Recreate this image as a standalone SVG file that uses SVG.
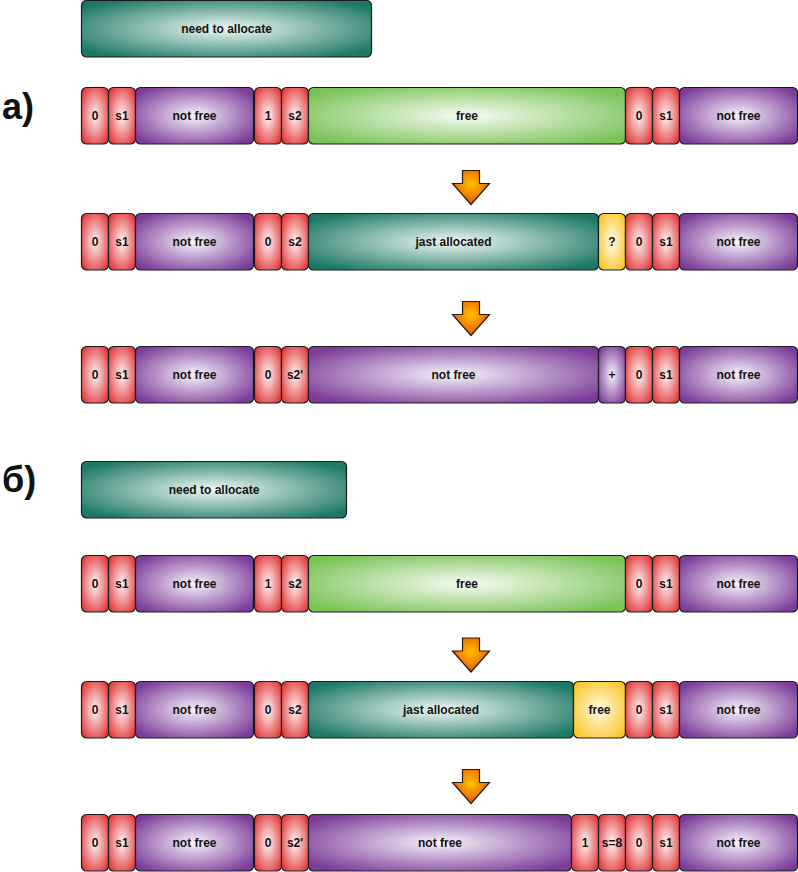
<svg xmlns="http://www.w3.org/2000/svg" width="798" height="872" viewBox="0 0 798 872">
<defs>
<radialGradient id="gr" cx="0.5" cy="0.5" r="0.62"><stop offset="0" stop-color="#fff4f4"/><stop offset="1" stop-color="#e03a3a"/></radialGradient>
<radialGradient id="gp" cx="0.5" cy="0.5" r="0.62"><stop offset="0" stop-color="#f8f3fb"/><stop offset="1" stop-color="#7a3c98"/></radialGradient>
<radialGradient id="gt" cx="0.5" cy="0.5" r="0.62"><stop offset="0" stop-color="#f0f9f6"/><stop offset="1" stop-color="#1d7865"/></radialGradient>
<radialGradient id="gg" cx="0.5" cy="0.5" r="0.62"><stop offset="0" stop-color="#f6fcf2"/><stop offset="1" stop-color="#7bc258"/></radialGradient>
<radialGradient id="gy" cx="0.5" cy="0.5" r="0.62"><stop offset="0" stop-color="#fffbe6"/><stop offset="1" stop-color="#fbc52a"/></radialGradient>
<radialGradient id="go" cx="0.5" cy="0.4" r="0.6"><stop offset="0" stop-color="#ffc200"/><stop offset="1" stop-color="#e65400"/></radialGradient>
<path id="arr" d="M462.5,0 H479.5 V13 H489.5 L471,34 L452.5,13 H462.5 Z"/>
</defs>
<style>
rect{stroke:#1c1c1c;stroke-width:1.2}
.r{fill:url(#gr)}
.p{fill:url(#gp)}
.t{fill:url(#gt)}
.g{fill:url(#gg)}
.y{fill:url(#gy)}
text{font-family:"Liberation Sans",Arial,sans-serif;font-weight:bold;font-size:12px;fill:#111;text-anchor:middle}
.big{font-size:36px;text-anchor:start}
.ar{fill:url(#go);stroke:#2a1a10;stroke-width:1.2}
</style>

<text class="big" x="2" y="119">a)</text>
<text class="big" x="2" y="492">б)</text>

<g id="need-a"><rect class="t" x="81.5" y="0.5" width="290" height="56.5" rx="5"/><text x="226.5" y="33">need to allocate</text></g>

<!-- row a1 -->
<g id="a1-c1"><rect class="r" x="81.5" y="87.5" width="27" height="56.5" rx="5"/><text x="95" y="120">0</text></g>
<g id="a1-c2"><rect class="r" x="108.5" y="87.5" width="27" height="56.5" rx="5"/><text x="122" y="120">s1</text></g>
<g id="a1-c3"><rect class="p" x="135.5" y="87.5" width="118" height="56.5" rx="5"/><text x="194.5" y="120">not free</text></g>
<g id="a1-c4"><rect class="r" x="254.5" y="87.5" width="27" height="56.5" rx="5"/><text x="268" y="120">1</text></g>
<g id="a1-c5"><rect class="r" x="281.5" y="87.5" width="27" height="56.5" rx="5"/><text x="295" y="120">s2</text></g>
<g id="a1-c6"><rect class="g" x="308.5" y="87.5" width="317" height="56.5" rx="5"/><text x="467" y="120">free</text></g>
<g id="a1-c7"><rect class="r" x="625.5" y="87.5" width="27" height="56.5" rx="5"/><text x="639" y="120">0</text></g>
<g id="a1-c8"><rect class="r" x="652.5" y="87.5" width="27" height="56.5" rx="5"/><text x="666" y="120">s1</text></g>
<g id="a1-c9"><rect class="p" x="679.5" y="87.5" width="118" height="56.5" rx="5"/><text x="738.5" y="120">not free</text></g>

<!-- row a2 -->
<g id="a2-c1"><rect class="r" x="81.5" y="213.5" width="27" height="56.5" rx="5"/><text x="95" y="246">0</text></g>
<g id="a2-c2"><rect class="r" x="108.5" y="213.5" width="27" height="56.5" rx="5"/><text x="122" y="246">s1</text></g>
<g id="a2-c3"><rect class="p" x="135.5" y="213.5" width="118" height="56.5" rx="5"/><text x="194.5" y="246">not free</text></g>
<g id="a2-c4"><rect class="r" x="254.5" y="213.5" width="27" height="56.5" rx="5"/><text x="268" y="246">0</text></g>
<g id="a2-c5"><rect class="r" x="281.5" y="213.5" width="27" height="56.5" rx="5"/><text x="295" y="246">s2</text></g>
<g id="a2-c6"><rect class="t" x="308.5" y="213.5" width="290" height="56.5" rx="5"/><text x="453.5" y="246">jast allocated</text></g>
<g id="a2-c7"><rect class="y" x="598.5" y="213.5" width="27" height="56.5" rx="5"/><text x="612" y="246">?</text></g>
<g id="a2-c8"><rect class="r" x="625.5" y="213.5" width="27" height="56.5" rx="5"/><text x="639" y="246">0</text></g>
<g id="a2-c9"><rect class="r" x="652.5" y="213.5" width="27" height="56.5" rx="5"/><text x="666" y="246">s1</text></g>
<g id="a2-c10"><rect class="p" x="679.5" y="213.5" width="118" height="56.5" rx="5"/><text x="738.5" y="246">not free</text></g>

<!-- row a3 -->
<g id="a3-c1"><rect class="r" x="81.5" y="346.5" width="27" height="56.5" rx="5"/><text x="95" y="379">0</text></g>
<g id="a3-c2"><rect class="r" x="108.5" y="346.5" width="27" height="56.5" rx="5"/><text x="122" y="379">s1</text></g>
<g id="a3-c3"><rect class="p" x="135.5" y="346.5" width="118" height="56.5" rx="5"/><text x="194.5" y="379">not free</text></g>
<g id="a3-c4"><rect class="r" x="254.5" y="346.5" width="27" height="56.5" rx="5"/><text x="268" y="379">0</text></g>
<g id="a3-c5"><rect class="r" x="281.5" y="346.5" width="27" height="56.5" rx="5"/><text x="295" y="379">s2'</text></g>
<g id="a3-c6"><rect class="p" x="308.5" y="346.5" width="290" height="56.5" rx="5"/><text x="453.5" y="379">not free</text></g>
<g id="a3-c7"><rect class="p" x="598.5" y="346.5" width="27" height="56.5" rx="5"/><text x="612" y="379">+</text></g>
<g id="a3-c8"><rect class="r" x="625.5" y="346.5" width="27" height="56.5" rx="5"/><text x="639" y="379">0</text></g>
<g id="a3-c9"><rect class="r" x="652.5" y="346.5" width="27" height="56.5" rx="5"/><text x="666" y="379">s1</text></g>
<g id="a3-c10"><rect class="p" x="679.5" y="346.5" width="118" height="56.5" rx="5"/><text x="738.5" y="379">not free</text></g>

<g id="need-b"><rect class="t" x="81.5" y="461.5" width="265" height="56.5" rx="5"/><text x="214" y="494">need to allocate</text></g>

<!-- row b1 -->
<g id="b1-c1"><rect class="r" x="81.5" y="555.5" width="27" height="56.5" rx="5"/><text x="95" y="588">0</text></g>
<g id="b1-c2"><rect class="r" x="108.5" y="555.5" width="27" height="56.5" rx="5"/><text x="122" y="588">s1</text></g>
<g id="b1-c3"><rect class="p" x="135.5" y="555.5" width="118" height="56.5" rx="5"/><text x="194.5" y="588">not free</text></g>
<g id="b1-c4"><rect class="r" x="254.5" y="555.5" width="27" height="56.5" rx="5"/><text x="268" y="588">1</text></g>
<g id="b1-c5"><rect class="r" x="281.5" y="555.5" width="27" height="56.5" rx="5"/><text x="295" y="588">s2</text></g>
<g id="b1-c6"><rect class="g" x="308.5" y="555.5" width="317" height="56.5" rx="5"/><text x="467" y="588">free</text></g>
<g id="b1-c7"><rect class="r" x="625.5" y="555.5" width="27" height="56.5" rx="5"/><text x="639" y="588">0</text></g>
<g id="b1-c8"><rect class="r" x="652.5" y="555.5" width="27" height="56.5" rx="5"/><text x="666" y="588">s1</text></g>
<g id="b1-c9"><rect class="p" x="679.5" y="555.5" width="118" height="56.5" rx="5"/><text x="738.5" y="588">not free</text></g>

<!-- row b2 -->
<g id="b2-c1"><rect class="r" x="81.5" y="681.5" width="27" height="56.5" rx="5"/><text x="95" y="714">0</text></g>
<g id="b2-c2"><rect class="r" x="108.5" y="681.5" width="27" height="56.5" rx="5"/><text x="122" y="714">s1</text></g>
<g id="b2-c3"><rect class="p" x="135.5" y="681.5" width="118" height="56.5" rx="5"/><text x="194.5" y="714">not free</text></g>
<g id="b2-c4"><rect class="r" x="254.5" y="681.5" width="27" height="56.5" rx="5"/><text x="268" y="714">0</text></g>
<g id="b2-c5"><rect class="r" x="281.5" y="681.5" width="27" height="56.5" rx="5"/><text x="295" y="714">s2</text></g>
<g id="b2-c6"><rect class="t" x="308.5" y="681.5" width="265" height="56.5" rx="5"/><text x="441" y="714">jast allocated</text></g>
<g id="b2-c7"><rect class="y" x="573.5" y="681.5" width="52" height="56.5" rx="5"/><text x="599.5" y="714">free</text></g>
<g id="b2-c8"><rect class="r" x="625.5" y="681.5" width="27" height="56.5" rx="5"/><text x="639" y="714">0</text></g>
<g id="b2-c9"><rect class="r" x="652.5" y="681.5" width="27" height="56.5" rx="5"/><text x="666" y="714">s1</text></g>
<g id="b2-c10"><rect class="p" x="679.5" y="681.5" width="118" height="56.5" rx="5"/><text x="738.5" y="714">not free</text></g>

<!-- row b3 -->
<g id="b3-c1"><rect class="r" x="81.5" y="814.5" width="27" height="56.5" rx="5"/><text x="95" y="847">0</text></g>
<g id="b3-c2"><rect class="r" x="108.5" y="814.5" width="27" height="56.5" rx="5"/><text x="122" y="847">s1</text></g>
<g id="b3-c3"><rect class="p" x="135.5" y="814.5" width="118" height="56.5" rx="5"/><text x="194.5" y="847">not free</text></g>
<g id="b3-c4"><rect class="r" x="254.5" y="814.5" width="27" height="56.5" rx="5"/><text x="268" y="847">0</text></g>
<g id="b3-c5"><rect class="r" x="281.5" y="814.5" width="27" height="56.5" rx="5"/><text x="295" y="847">s2'</text></g>
<g id="b3-c6"><rect class="p" x="308.5" y="814.5" width="263" height="56.5" rx="5"/><text x="440" y="847">not free</text></g>
<g id="b3-c7"><rect class="r" x="571.5" y="814.5" width="27" height="56.5" rx="5"/><text x="585" y="847">1</text></g>
<g id="b3-c8"><rect class="r" x="598.5" y="814.5" width="27" height="56.5" rx="5"/><text x="612" y="847">s=8</text></g>
<g id="b3-c9"><rect class="r" x="625.5" y="814.5" width="27" height="56.5" rx="5"/><text x="639" y="847">0</text></g>
<g id="b3-c10"><rect class="r" x="652.5" y="814.5" width="27" height="56.5" rx="5"/><text x="666" y="847">s1</text></g>
<g id="b3-c11"><rect class="p" x="679.5" y="814.5" width="118" height="56.5" rx="5"/><text x="738.5" y="847">not free</text></g>

<g id="connectors">
<use href="#arr" class="ar" y="170.5"/>
<use href="#arr" class="ar" y="301.5"/>
<use href="#arr" class="ar" y="638"/>
<use href="#arr" class="ar" y="769.5"/>
</g>
</svg>
